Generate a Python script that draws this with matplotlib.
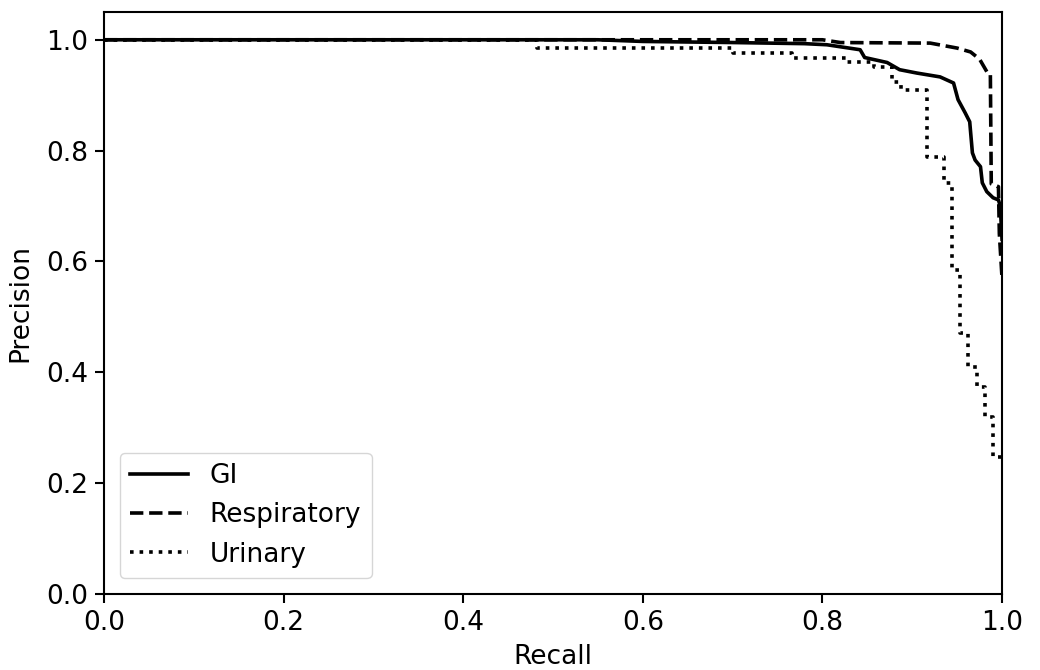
import matplotlib
matplotlib.use("Agg")
import matplotlib.pyplot as plt

# precision-recall points
gi_recall = [0.0, 0.55, 0.60, 0.70, 0.78, 0.805, 0.842, 0.847, 0.872, 0.886, 0.905,
             0.931, 0.946, 0.951, 0.959, 0.964, 0.967, 0.970, 0.976, 0.978, 0.983,
             0.990, 0.996, 0.998, 1.0]
gi_precision = [1.0, 1.0, 0.997, 0.995, 0.993, 0.991, 0.982, 0.968, 0.959, 0.946, 0.940,
                0.933, 0.922, 0.892, 0.868, 0.852, 0.796, 0.783, 0.771, 0.742, 0.726,
                0.715, 0.711, 0.70, 0.64]

resp_recall = [0.0, 0.80, 0.82, 0.92, 0.95, 0.965, 0.975, 0.985, 0.987, 0.988,
               0.996, 0.997, 1.0]
resp_precision = [1.0, 1.0, 0.995, 0.994, 0.985, 0.978, 0.965, 0.937, 0.937, 0.74,
                  0.735, 0.65, 0.57]

uri_recall = [0.0, 0.482, 0.70, 0.766, 0.827, 0.857, 0.877, 0.888, 0.916, 0.935,
              0.944, 0.953, 0.962, 0.972, 0.981, 0.990, 1.0]
uri_precision = [1.0, 0.986, 0.977, 0.968, 0.960, 0.951, 0.924, 0.910, 0.789, 0.742,
                 0.585, 0.471, 0.410, 0.374, 0.320, 0.247, 0.24]

fig = plt.figure(figsize=(10.4, 6.7), dpi=100)
ax = fig.add_axes([0.1, 0.1134, 0.8635, 0.8686])

lw = 2.6
ax.plot(gi_recall, gi_precision, color="black", linestyle="-", lw=lw, label="GI")
ax.plot(resp_recall, resp_precision, color="black", linestyle="--", lw=lw,
        label="Respiratory")
ax.plot(uri_recall, uri_precision, color="black", linestyle=":", lw=lw,
        drawstyle="steps-post", label="Urinary")

ax.set_xlim(0, 1.0)
ax.set_ylim(0, 1.05)
ax.set_xticks([0.0, 0.2, 0.4, 0.6, 0.8, 1.0])
ax.set_yticks([0.0, 0.2, 0.4, 0.6, 0.8, 1.0])
ax.tick_params(labelsize=19, width=1.5, length=6.5, pad=5)
for s in ax.spines.values():
    s.set_linewidth(1.5)
ax.set_xlabel("Recall", fontsize=19, labelpad=6)
ax.set_ylabel("Precision", fontsize=19, labelpad=9)
ax.legend(loc="lower left", fontsize=19, borderaxespad=0.6, handlelength=2.2)

fig.savefig("out.png", dpi=100)
